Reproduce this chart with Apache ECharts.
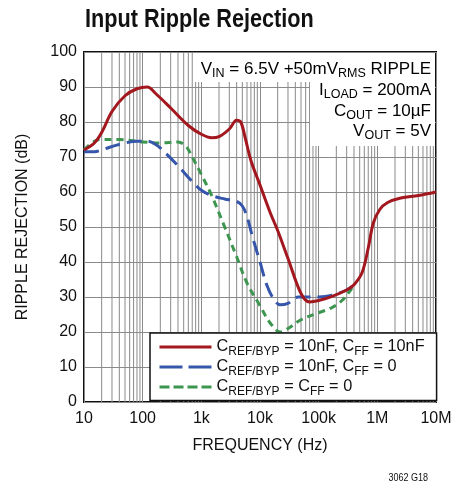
<!DOCTYPE html>
<html><head><meta charset="utf-8">
<script src="https://cdn.jsdelivr.net/npm/echarts@6/dist/echarts.min.js"></script>
<style>html,body{margin:0;padding:0;background:#fff}#c{width:466px;height:486px}</style>
</head><body><div id="c"></div>
<script>
// ---- data ----
const titleText = 'Input Ripple Rejection';
const xTickLabels = {10:'10',100:'100',1000:'1k',10000:'10k',100000:'100k',1000000:'1M',10000000:'10M'};
const yTicks = [0,10,20,30,40,50,60,70,80,90,100];
const seriesNames = ['CREF/BYP = 10nF, CFF = 10nF','CREF/BYP = 10nF, CFF = 0','CREF/BYP = CFF = 0'];
const legendRich = [
  '{m|C}{s|REF/BYP}{m| = 10nF, C}{s|FF}{m| = 10nF}',
  '{m|C}{s|REF/BYP}{m| = 10nF, C}{s|FF}{m| = 0}',
  '{m|C}{s|REF/BYP}{m| = C}{s|FF}{m| = 0}'
];
const redData = [[10,72],[15,74],[20,77],[30,83],[50,87.5],[80,89.5],[120,90],[170,88],[300,84],[600,79],[1000,76.5],[1500,75.5],[2000,75.8],[3000,78],[4000,80.5],[4700,80],[5500,76],[7000,69],[10000,62],[15000,54],[20000,49],[30000,41],[50000,31],[70000,28.6],[100000,29],[170000,30.2],[300000,32],[400000,33.5],[550000,37],[700000,44],[850000,51],[1100000,55],[1500000,57],[2500000,58.3],[5000000,59],[10000000,60]];
const blueData = [[10,71.5],[15,71.5],[20,72],[30,73],[50,74],[80,74.5],[120,74.5],[170,73.5],[250,71],[400,67.5],[700,63],[1000,60.5],[1500,59],[2500,58],[4000,57.3],[5000,56],[6000,53],[7500,47],[10000,40],[13000,33.5],[17000,29.5],[22000,27.8],[30000,28.2],[45000,30],[70000,30],[100000,30],[170000,30.5],[300000,32],[400000,33.5]];
const greenData = [[10,72],[15,74.5],[20,75],[40,75],[100,74.3],[200,74],[400,74.3],[550,73],[700,70],[1000,65],[1500,59],[2500,50],[4000,41.5],[6000,34],[10000,27.5],[15000,22.5],[22000,20],[30000,21],[50000,23.5],[100000,25.5],[170000,27],[250000,29],[350000,32],[420000,34]];
const minorGrid = [20,30,40,50,60,70,80,90,200,300,400,500,600,700,800,900,2000,3000,4000,5000,6000,7000,8000,9000,20000,30000,40000,50000,60000,70000,80000,90000,200000,300000,400000,500000,600000,700000,800000,900000,2000000,3000000,4000000,5000000,6000000,7000000,8000000,9000000];
const noteLines = [
  '{m|V}{s|IN}{m| = 6.5V +50mV}{s|RMS}{m| RIPPLE}',
  '{m|I}{s|LOAD}{m| = 200mA}',
  '{m|C}{s|OUT}{m| = 10µF}',
  '{m|V}{s|OUT}{m| = 5V}'
];
const colors = ['#a3171f','#3556ab','#3d9650'];

const FONT = 'Liberation Sans';
const rich = {
  m:{fontFamily:FONT,fontSize:17,color:'#111',lineHeight:22},
  s:{fontFamily:FONT,fontSize:12.5,color:'#111',lineHeight:10,verticalAlign:'bottom'}
};
const legRich = {
  m:{fontFamily:FONT,fontSize:16.3,color:'#111',lineHeight:21},
  s:{fontFamily:FONT,fontSize:12,color:'#111',lineHeight:9,verticalAlign:'bottom'}
};

const chart = echarts.init(document.getElementById('c'), null, {renderer:'canvas'});
const noteGraphics = [
  {type:'rect',shape:{x:193,y:53,width:242,height:29},style:{fill:'#fff'},z:50},
  {type:'rect',shape:{x:310,y:82,width:125,height:64},style:{fill:'#fff'},z:50}
];
const noteY = [69,90,111,131];
noteLines.forEach((t,i)=>{
  noteGraphics.push({type:'text',x:431,y:noteY[i],z:51,style:{text:t,rich:rich,align:'right',verticalAlign:'middle',fontFamily:FONT,fontSize:17}});
});
noteGraphics.push({type:'text',x:85,y:20,scaleX:0.867,style:{text:titleText,verticalAlign:'middle',fontFamily:FONT,fontWeight:'bold',fontSize:25,fill:'#111'}});
noteGraphics.push({type:'text',x:428,y:478,scaleX:0.82,style:{text:'3062 G18',align:'right',verticalAlign:'middle',fontFamily:FONT,fontSize:11,fill:'#111'}});

const lineStyles = [
  {width:3,type:'solid'},
  {width:3,type:[15,7]},
  {width:3,type:[7,5]}
];
const legendDash = ['solid',[23,6],[10,4]];
const datas = [redData, blueData, greenData];

const series = [{
  type:'custom', name:'grid', silent:true, z:1,
  data: minorGrid.map(f=>[f]),
  encode:{x:0},
  renderItem:(params, api)=>{
    const f = api.value(0);
    const p1 = api.coord([f,0]); const p2 = api.coord([f,100]);
    return {type:'line',shape:{x1:p1[0],y1:p1[1],x2:p2[0],y2:p2[1]},style:{stroke:'#8a8a8a',lineWidth:1}};
  }
}];
[2,1,0].forEach(i=>{
  series.push({
    type:'line', name:seriesNames[i], data:datas[i], smooth:0.35, showSymbol:false, symbol:'none',
    lineStyle:Object.assign({color:colors[i],cap:'butt'},lineStyles[i]), itemStyle:{color:colors[i]}, z:3+(2-i)
  });
});

chart.setOption({
  animation:false,
  backgroundColor:'#fff',
  grid:{left:84,right:30,top:52,bottom:84,show:true,borderColor:'#111',borderWidth:2,backgroundColor:'transparent'},
  xAxis:{
    type:'log', logBase:10, min:10, max:10000000,
    name:'FREQUENCY (Hz)', nameLocation:'middle', nameGap:36,
    nameTextStyle:{fontFamily:FONT,fontSize:16,color:'#111'},
    axisLine:{show:false}, axisTick:{show:false},
    axisLabel:{formatter:v=>xTickLabels[Math.round(v)]||'', fontFamily:FONT,fontSize:16,color:'#111',margin:9},
    splitLine:{show:true,lineStyle:{color:'#8a8a8a',width:1}}
  },
  yAxis:{
    type:'value', min:0, max:100, interval:10,
    name:'RIPPLE REJECTION (dB)', nameLocation:'middle', nameGap:53,
    nameTextStyle:{fontFamily:FONT,fontSize:16,color:'#111'},
    axisLine:{show:false}, axisTick:{show:false},
    axisLabel:{fontFamily:FONT,fontSize:16,color:'#111',margin:7},
    splitLine:{show:true,lineStyle:{color:'#8a8a8a',width:1}}
  },
  legend:{
    data:seriesNames.map((n,i)=>({name:n,lineStyle:{type:legendDash[i],width:3,color:colors[i]}})),
    orient:'vertical', left:150, top:333,
    backgroundColor:'#fff', borderColor:'#111', borderWidth:1.5, padding:[6,12,3,8],
    itemWidth:52, itemHeight:14, itemGap:1.5,
    itemStyle:{opacity:0},
    formatter:name=>legendRich[seriesNames.indexOf(name)],
    textStyle:{rich:legRich}
  },
  graphic:noteGraphics,
  series:series
});
</script></body></html>
